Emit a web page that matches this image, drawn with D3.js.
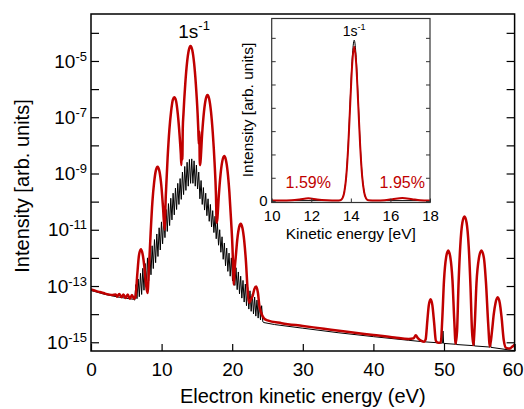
<!DOCTYPE html>
<html>
<head>
<script src="https://d3js.org/d3.v7.min.js"></script>
<style>
    body { margin: 0; background: white; }
    svg text { font-family: "Liberation Sans", Arial, sans-serif; fill: black; }
</style>
</head>
<body>
<div id="chart"></div>
<script>
// photoelectron spectra: [energy in eV, log10 of intensity]
var redSpectrum = [
    [0,-13.12],[0.5,-13.16],[1,-13.2],[1.5,-13.23],[2,-13.27],[2.5,-13.3],[3,-13.32],[3.5,-13.3],
    [3.7,-13.38],[4.0,-13.28],[4.3,-13.4],[4.6,-13.3],[4.9,-13.43],[5.2,-13.3],[5.5,-13.45],[5.8,-13.32],
    [6.1,-13.45],[6.3,-13.38],[6.55,-12.6],[6.8,-11.9],[7.07,-11.69],[7.3,-11.85],[7.55,-12.3],[7.8,-12.95],
    [8.0,-13.25],[8.2,-12.4],[8.45,-11.1],[8.7,-10.0],[8.95,-9.3],[9.2,-8.88],[9.43,-8.76],[9.7,-8.93],
    [9.95,-9.4],[10.2,-10.2],[10.42,-11.0],[10.6,-9.75],[10.85,-8.45],[11.1,-7.45],[11.35,-6.78],[11.6,-6.37],
    [11.8,-6.29],[12.05,-6.42],[12.3,-6.9],[12.55,-7.65],[12.72,-8.3],[12.8,-8.7],[12.88,-8.0],[12.94,-8.5],
    [13.0,-7.4],[13.1,-6.87],[13.35,-5.82],[13.6,-5.07],[13.85,-4.62],[14.1,-4.47],[14.35,-4.62],[14.6,-5.07],
    [14.85,-5.82],[15.1,-6.87],[15.2,-7.45],[15.27,-7.95],[15.33,-7.5],[15.42,-8.7],[15.5,-8.6],[15.75,-7.56],
    [16.0,-6.81],[16.25,-6.36],[16.5,-6.21],[16.75,-6.36],[17.0,-6.81],[17.25,-7.56],[17.5,-8.6],[17.7,-9.75],
    [17.8,-10.75],[17.9,-10.6],[18.1,-9.8],[18.35,-9.03],[18.6,-8.56],[18.87,-8.38],[19.1,-8.51],[19.35,-8.93],
    [19.6,-9.66],[19.85,-10.7],[20.05,-11.7],[20.15,-12.5],[20.22,-12.95],[20.35,-12.4],[20.5,-11.97],[20.75,-11.28],
    [21.0,-10.89],[21.2,-10.79],[21.45,-10.94],[21.7,-11.39],[21.95,-12.14],[22.2,-13.2],[22.4,-13.6],[22.6,-13.5],
    [22.9,-13.35],[23.15,-13.1],[23.4,-13.02],[23.65,-13.25],[23.85,-13.7],[24.1,-13.95],[24.5,-14.15],[25,-14.22],
    [27,-14.32],[30,-14.42],[33,-14.52],[36,-14.62],[40,-14.74],[43,-14.83],[45,-14.88],[45.7,-14.86],
    [46.0,-14.75],[46.3,-14.85],[46.8,-14.95],[47.2,-14.98],[47.4,-14.9],[47.65,-14.2],[47.85,-13.68],[48.1,-13.47],
    [48.35,-13.68],[48.6,-14.3],[48.85,-14.95],[49.2,-15.02],[49.55,-15.0],[49.75,-14.2],[50.0,-12.8],[50.3,-11.98],
    [50.6,-11.74],[50.9,-11.98],[51.2,-12.8],[51.45,-14.2],[51.65,-15.05],[51.85,-14.6],[52.05,-13.0],[52.3,-11.6],
    [52.6,-10.75],[52.9,-10.53],[53.2,-10.75],[53.5,-11.6],[53.75,-13.0],[53.95,-14.5],[54.15,-15.1],[54.35,-14.4],
    [54.6,-12.9],[54.95,-12.0],[55.3,-11.74],[55.65,-12.0],[55.95,-12.9],[56.25,-14.3],[56.5,-15.15],[56.8,-14.6],
    [57.05,-14.0],[57.3,-13.6],[57.6,-13.4],[57.9,-13.6],[58.15,-14.1],[58.45,-14.9],[58.8,-15.2],[59.3,-15.22],
    [59.7,-15.15],[60,-15.08]
];

var blackSpectrum = [
    [0,-13.16],[2,-13.3],[4,-13.4],[6.0,-13.47],[6.2,-13.5],
    [6.35,-12.95],[6.515,-13.45],[6.68,-12.75],[6.845,-13.38],[7.01,-12.55],[7.175,-13.3],[7.34,-12.37],[7.505,-13.15],
    [7.67,-12.2],[7.835,-13.0],[8.0,-12.0],[8.165,-12.82],[8.33,-11.8],[8.495,-12.6],[8.66,-11.57],[8.825,-12.38],
    [8.99,-11.35],[9.155,-12.17],[9.32,-11.15],[9.485,-11.95],[9.65,-10.93],[9.815,-11.72],[9.98,-10.72],[10.145,-11.5],
    [10.31,-10.5],[10.475,-11.28],[10.64,-10.28],[10.805,-11.06],[10.97,-10.07],[11.135,-10.85],[11.3,-9.88],[11.465,-10.65],
    [11.63,-9.7],[11.795,-10.47],[11.96,-9.52],[12.125,-10.28],[12.29,-9.35],[12.455,-10.1],[12.62,-9.18],[12.785,-9.92],
    [12.95,-8.95],[13.115,-9.75],[13.28,-8.75],[13.445,-9.6],[13.61,-8.6],[13.775,-9.45],[13.94,-8.5],[14.105,-9.35],
    [14.27,-8.48],[14.435,-9.35],[14.6,-8.55],[14.765,-9.45],[14.93,-8.7],[15.095,-9.55],[15.26,-8.95],
    [15.425,-9.9],[15.59,-9.25],[15.755,-10.1],[15.92,-9.5],[16.085,-10.3],[16.25,-9.7],[16.415,-10.5],
    [16.58,-9.9],[16.745,-10.7],[16.91,-10.1],[17.075,-10.9],[17.24,-10.32],[17.405,-11.1],[17.57,-10.52],
    [17.735,-11.32],[17.9,-10.75],[18.065,-11.55],[18.23,-11.0],[18.395,-11.8],[18.56,-11.25],[18.725,-12.05],[18.89,-11.47],
    [19.055,-12.28],[19.22,-11.65],[19.385,-12.48],[19.55,-11.83],[19.715,-12.65],[19.88,-12.0],[20.045,-12.82],[20.21,-12.18],
    [20.375,-12.98],[20.54,-12.35],[20.705,-13.13],[20.87,-12.5],[21.035,-13.28],[21.2,-12.65],[21.365,-13.43],[21.53,-12.8],
    [21.695,-13.57],[21.86,-12.93],[22.025,-13.7],[22.19,-13.05],[22.355,-13.82],[22.52,-13.17],[22.685,-13.9],[22.85,-13.28],
    [23.015,-13.99],[23.18,-13.39],[23.345,-14.07],[23.51,-13.5],[23.675,-14.14],[23.84,-13.6],[24.005,-14.2],[24.17,-13.7],
    [24.335,-14.27],[24.5,-14.3],[26,-14.37],[30,-14.5],[35,-14.66],[40,-14.8],[45,-14.93],[47,-14.98],
    [49.8,-15.03],[49.85,-14.6],[49.95,-15.04],[51.6,-15.07],[51.65,-14.7],[51.75,-15.08],
    [54.15,-15.12],[54.2,-14.8],[54.3,-15.13],[56.5,-15.17],[56.55,-14.9],[56.65,-15.18],[60,-15.3]
];

// inset, linear intensity
var insetRed = [
    [10,0.03],[10.5,0.03],[11.0,0.04],[11.4,0.07],[11.85,0.12],[12.3,0.07],[12.8,0.04],[13.3,0.03],
    [13.47,0.04],[13.57,0.11],[13.67,0.39],[13.77,1.08],[13.87,2.39],[13.97,4.2],[14.07,5.9],[14.17,6.62],
    [14.27,5.9],[14.37,4.2],[14.47,2.39],[14.57,1.08],[14.67,0.39],[14.77,0.11],[14.87,0.04],[15.3,0.03],
    [15.7,0.04],[16.1,0.08],[16.6,0.13],[17.1,0.08],[17.5,0.04],[18,0.03]
];
var insetBlack = [
    [10,0.02],[13.4,0.02],[13.47,0.04],[13.57,0.12],[13.67,0.41],[13.77,1.12],[13.87,2.48],[13.97,4.38],
    [14.07,6.15],[14.17,6.9],[14.27,6.15],[14.37,4.38],[14.47,2.48],[14.57,1.12],[14.67,0.41],[14.77,0.12],
    [14.87,0.04],[15,0.02],[18,0.02]
];

var xTicks = [0, 10, 20, 30, 40, 50, 60];
var yDecades = [-15, -14, -13, -12, -11, -10, -9, -8, -7, -6, -5, -4];
var yLabelled = [-15, -13, -11, -9, -7, -5];
var insetXTicks = [10, 12, 14, 16, 18];
var insetYTicks = [0, 1, 2, 3, 4, 5, 6, 7];
var satellites = [{ label: '1.59%', e: 11.85 }, { label: '1.95%', e: 16.6 }];
var mainPeakE = 14.1;
var insetPeakE = 14.17;

var red = '#c00000';
var fontFamily = '"Liberation Sans", Arial, sans-serif';
var W = 524, H = 409;
var padding = { top: 14, right: 9.4, bottom: 58, left: 91 };

var svg = d3.select('#chart').append('svg')
    .attr('width', W)
    .attr('height', H);

var xScale = d3.scaleLinear()
    .domain([0, 60])
    .range([padding.left, W - padding.right]);

var yScale = d3.scaleLog()
    .domain([Math.pow(10, -15.31), Math.pow(10, -3.33)])
    .range([H - padding.bottom, padding.top]);

svg.append('clipPath').attr('id', 'mainClip')
    .append('rect')
    .attr('x', padding.left).attr('y', padding.top)
    .attr('width', W - padding.left - padding.right)
    .attr('height', H - padding.top - padding.bottom);

var line = d3.line()
    .x(function(d) { return xScale(d[0]); })
    .y(function(d) { return yScale(Math.pow(10, d[1])); });

svg.append('path')
    .datum(blackSpectrum)
    .attr('clip-path', 'url(#mainClip)')
    .attr('fill', 'none')
    .attr('stroke', 'black')
    .attr('stroke-width', 1)
    .attr('d', line.curve(d3.curveLinear));

svg.append('path')
    .datum(redSpectrum)
    .attr('clip-path', 'url(#mainClip)')
    .attr('fill', 'none')
    .attr('stroke', red)
    .attr('stroke-width', 2.5)
    .attr('stroke-linejoin', 'round')
    .attr('d', line.curve(d3.curveMonotoneX));

// axes, ticks pointing inward
var yTickVals = yDecades.map(function(e) { return Math.pow(10, e); });

var gy = svg.append('g')
    .attr('transform', 'translate(' + padding.left + ',0)')
    .call(d3.axisLeft(yScale).tickValues(yTickVals).tickSizeInner(-8).tickSizeOuter(0).tickPadding(4))
    .attr('font-size', 19)
    .attr('font-family', fontFamily);
gy.select('.domain').remove();
gy.selectAll('text').each(function(d) {
    var e = Math.round(Math.log10(d));
    var t = d3.select(this).text(null);
    if (yLabelled.indexOf(e) < 0) return;
    t.append('tspan').text('10');
    t.append('tspan').text(e).attr('font-size', 13).attr('dy', -7);
});

var gyr = svg.append('g')
    .attr('transform', 'translate(' + (W - padding.right) + ',0)')
    .call(d3.axisRight(yScale).tickValues(yTickVals).tickSizeInner(-8).tickSizeOuter(0).tickFormat(''));
gyr.select('.domain').remove();

var gx = svg.append('g')
    .attr('transform', 'translate(0,' + (H - padding.bottom) + ')')
    .call(d3.axisBottom(xScale).tickValues(xTicks).tickSizeInner(-7).tickSizeOuter(0).tickPadding(12))
    .attr('font-size', 19)
    .attr('font-family', fontFamily);
gx.select('.domain').remove();
// keep the last label inside the page
gx.selectAll('.tick text').filter(function(d) { return d === 60; }).attr('dx', -2);

svg.selectAll('.tick line').attr('stroke-width', 1.2);

svg.append('rect')
    .attr('x', padding.left).attr('y', padding.top)
    .attr('width', W - padding.left - padding.right)
    .attr('height', H - padding.top - padding.bottom)
    .attr('fill', 'none')
    .attr('stroke', 'black')
    .attr('stroke-width', 1.5);

svg.append('text')
    .attr('x', (padding.left + W - padding.right) / 2)
    .attr('y', 403)
    .attr('text-anchor', 'middle')
    .attr('font-size', 20)
    .text('Electron kinetic energy (eV)');

svg.append('text')
    .attr('transform', 'translate(29,186) rotate(-90)')
    .attr('text-anchor', 'middle')
    .attr('font-size', 20)
    .text('Intensity [arb. units]');

var peakLabel = svg.append('text')
    .attr('x', xScale(mainPeakE) + 3.5)
    .attr('y', 38.3)
    .attr('text-anchor', 'middle');
peakLabel.append('tspan').attr('font-size', 19).text('1s');
peakLabel.append('tspan').attr('font-size', 13).attr('dy', -8).text('-1');

// inset
var inset = { left: 271.7, right: 430, top: 18.5, bottom: 202.5 };

var xi = d3.scaleLinear()
    .domain([10, 18])
    .range([inset.left, inset.right]);

var yi = d3.scaleLinear()
    .domain([-0.06, 7.83])
    .range([inset.bottom, inset.top]);

svg.append('rect')
    .attr('x', inset.left).attr('y', inset.top)
    .attr('width', inset.right - inset.left)
    .attr('height', inset.bottom - inset.top)
    .attr('fill', 'white');

svg.append('clipPath').attr('id', 'insetClip')
    .append('rect')
    .attr('x', inset.left).attr('y', inset.top)
    .attr('width', inset.right - inset.left)
    .attr('height', inset.bottom - inset.top);

var insetLine = d3.line()
    .x(function(d) { return xi(d[0]); })
    .y(function(d) { return yi(d[1]); })
    .curve(d3.curveMonotoneX);

svg.append('path')
    .datum(insetBlack)
    .attr('clip-path', 'url(#insetClip)')
    .attr('fill', 'none')
    .attr('stroke', 'black')
    .attr('stroke-width', 1)
    .attr('d', insetLine);

svg.append('path')
    .datum(insetRed)
    .attr('clip-path', 'url(#insetClip)')
    .attr('fill', 'none')
    .attr('stroke', red)
    .attr('stroke-width', 2)
    .attr('d', insetLine);

var gix = svg.append('g')
    .attr('transform', 'translate(0,' + inset.bottom + ')')
    .call(d3.axisBottom(xi).tickValues(insetXTicks).tickSizeInner(-4).tickSizeOuter(0).tickPadding(8))
    .attr('font-size', 15)
    .attr('font-family', fontFamily);
gix.select('.domain').remove();

var giy = svg.append('g')
    .attr('transform', 'translate(' + inset.left + ',0)')
    .call(d3.axisLeft(yi).tickValues(insetYTicks).tickSizeInner(-4).tickSizeOuter(0).tickPadding(4)
        .tickFormat(function(d) { return d === 0 ? '0' : ''; }))
    .attr('font-size', 15)
    .attr('font-family', fontFamily);
giy.select('.domain').remove();

var giyr = svg.append('g')
    .attr('transform', 'translate(' + inset.right + ',0)')
    .call(d3.axisRight(yi).tickValues(insetYTicks).tickSizeInner(-4).tickSizeOuter(0).tickFormat(''));
giyr.select('.domain').remove();

[gix, giy, giyr].forEach(function(g) {
    g.selectAll('.tick line').attr('stroke', '#333');
});

svg.append('rect')
    .attr('x', inset.left).attr('y', inset.top)
    .attr('width', inset.right - inset.left)
    .attr('height', inset.bottom - inset.top)
    .attr('fill', 'none')
    .attr('stroke', '#333')
    .attr('stroke-width', 1.2);

svg.append('text')
    .attr('x', (inset.left + inset.right) / 2)
    .attr('y', 239)
    .attr('text-anchor', 'middle')
    .attr('font-size', 15.5)
    .text('Kinetic energy [eV]');

svg.append('text')
    .attr('transform', 'translate(253,110) rotate(-90)')
    .attr('text-anchor', 'middle')
    .attr('font-size', 15.5)
    .text('Intensity [arb. units]');

var insetPeakLabel = svg.append('text')
    .attr('x', xi(insetPeakE))
    .attr('y', 36)
    .attr('text-anchor', 'middle');
insetPeakLabel.append('tspan').attr('font-size', 14).text('1s');
insetPeakLabel.append('tspan').attr('font-size', 9).attr('dy', -6).text('-1');

svg.selectAll('text.sat')
    .data(satellites)
    .enter()
    .append('text')
    .attr('class', 'sat')
    .attr('x', function(d) { return xi(d.e); })
    .attr('y', yi(0) - 13)
    .attr('text-anchor', 'middle')
    .attr('font-size', 16)
    .style('fill', red)
    .text(function(d) { return d.label; });
</script>
</body>
</html>
